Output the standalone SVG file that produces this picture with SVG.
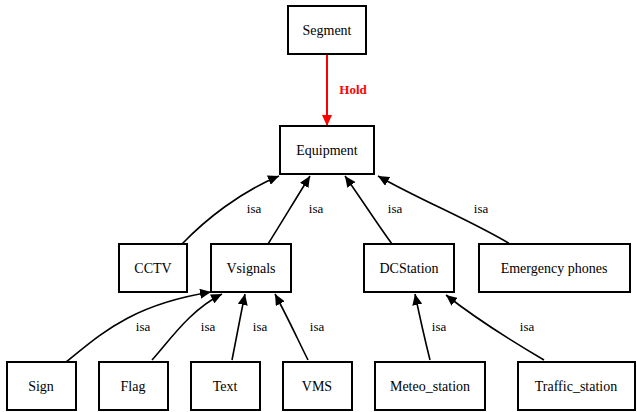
<svg xmlns="http://www.w3.org/2000/svg" width="637" height="412" viewBox="0 0 637 412">
<defs>
<marker id="ah" markerUnits="userSpaceOnUse" markerWidth="12" markerHeight="10" refX="11" refY="5" orient="auto">
<path d="M0,0 L11,5 L0,10 Z" fill="#000"/>
</marker>
<marker id="ahr" markerUnits="userSpaceOnUse" markerWidth="12" markerHeight="10" refX="11" refY="5" orient="auto">
<path d="M0,0 L11,5 L0,10 Z" fill="#f00"/>
</marker>
<style>
rect{fill:#fff;stroke:#000;stroke-width:2}
text{font-family:"Liberation Serif","Times New Roman","DejaVu Serif",Times,serif;font-size:14px;text-anchor:middle;fill:#000}
.lbl{font-size:13px}
.e{fill:none;stroke:#000;stroke-width:1.6;marker-end:url(#ah)}
</style>
</defs>
<rect x="0" y="0" width="637" height="412" style="fill:#fff;stroke:none"/>
<g id="edges">
<path d="M327,55 L327,126" style="fill:none;stroke:#f00;stroke-width:2;marker-end:url(#ahr)"/>
<text x="353" y="94" style="fill:#f00;font-weight:bold" class="lbl">Hold</text>
<path class="e" d="M182,244 C205,220 240,192 279,176"/>
<text class="lbl" x="254" y="213">isa</text>
<path class="e" d="M268,244 C280,225 295,200 310,176"/>
<text class="lbl" x="316" y="213">isa</text>
<path class="e" d="M392,244 C378,225 362,200 345,176"/>
<text class="lbl" x="395" y="213">isa</text>
<path class="e" d="M510,244 C470,220 420,200 378,176"/>
<text class="lbl" x="481" y="213">isa</text>
<path class="e" d="M66,362 C100,335 130,305 211,292"/>
<text class="lbl" x="143" y="331">isa</text>
<path class="e" d="M152,360 C170,340 190,310 222,294"/>
<text class="lbl" x="208" y="331">isa</text>
<path class="e" d="M232,360 C236,340 240,318 245,294"/>
<text class="lbl" x="260" y="331">isa</text>
<path class="e" d="M308,360 C298,340 288,318 275,294"/>
<text class="lbl" x="317" y="331">isa</text>
<path class="e" d="M430,360 C425,340 420,318 415,294"/>
<text class="lbl" x="439" y="331">isa</text>
<path class="e" d="M544,360 C510,340 475,318 446,295"/>
<text class="lbl" x="527" y="331">isa</text>
</g>
<g id="Segment"><rect x="288" y="6" width="78" height="48"/><text x="327" y="35">Segment</text></g>
<g id="Equipment"><rect x="280" y="126" width="94" height="48"/><text x="327" y="155">Equipment</text></g>
<g id="CCTV"><rect x="119" y="244" width="68" height="48"/><text x="153" y="273">CCTV</text></g>
<g id="Vsignals"><rect x="211" y="244" width="80" height="48"/><text x="251" y="273">Vsignals</text></g>
<g id="DCStation"><rect x="364" y="244" width="90" height="48"/><text x="409" y="273">DCStation</text></g>
<g id="Emergency_phones"><rect x="479" y="244" width="151" height="48"/><text x="554" y="273">Emergency phones</text></g>
<g id="Sign"><rect x="7" y="362" width="69" height="48"/><text x="41" y="391">Sign</text></g>
<g id="Flag"><rect x="99" y="362" width="69" height="48"/><text x="133" y="391">Flag</text></g>
<g id="Text"><rect x="191" y="362" width="69" height="48"/><text x="225" y="391">Text</text></g>
<g id="VMS"><rect x="283" y="362" width="69" height="48"/><text x="317" y="391">VMS</text></g>
<g id="Meteo_station"><rect x="375" y="362" width="110" height="48"/><text x="430" y="391">Meteo_station</text></g>
<g id="Traffic_station"><rect x="518" y="362" width="117" height="48"/><text x="576" y="391">Traffic_station</text></g>
</svg>
